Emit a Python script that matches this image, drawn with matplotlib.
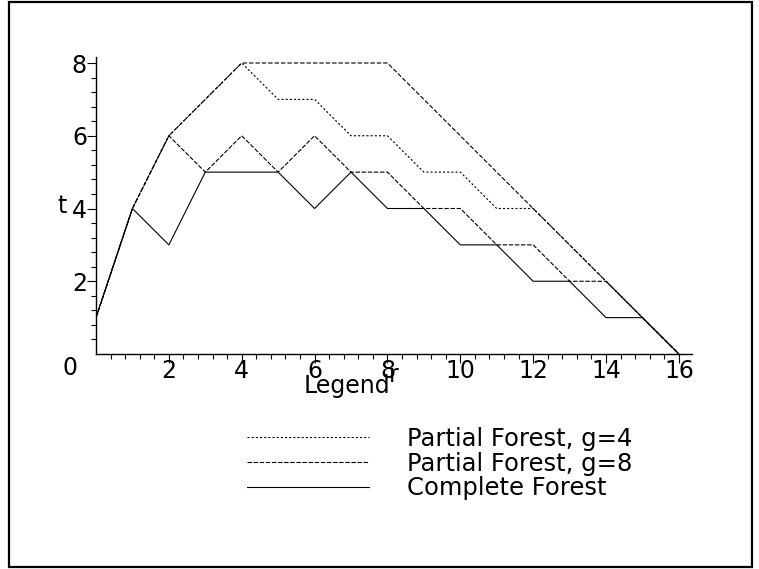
import matplotlib.pyplot as plt
from matplotlib.patches import Rectangle

plt.rcParams['font.family'] = ['DejaVu Sans']
plt.rcParams['lines.scale_dashes'] = False

# Data
r = list(range(17))
upper_bound = [1, 4, 6, 7, 8, 8, 8, 8, 8, 7, 6, 5, 4, 3, 2, 1, 0]
partial_g4 = [1, 4, 6, 7, 8, 7, 7, 6, 6, 5, 5, 4, 4, 3, 2, 1, 0]
partial_g8 = [1, 4, 6, 5, 6, 5, 6, 5, 5, 4, 4, 3, 3, 2, 2, 1, 0]
complete = [1, 4, 3, 5, 5, 5, 4, 5, 4, 4, 3, 3, 2, 2, 1, 1, 0]

x_ticks = [2, 4, 6, 8, 10, 12, 14, 16]
y_ticks = [2, 4, 6, 8]

W, H = 759, 569
fig = plt.figure(figsize=(W / 100, H / 100), dpi=100)
ax = fig.add_axes([96 / W, 1 - 354 / H, (692 - 96) / W, (354 - 57) / H])

lw = 0.8
ax.plot(r, upper_bound, color='black', lw=lw, dashes=(3.2, 1.4), label='_nolegend_')
ax.plot(r, partial_g4, color='black', lw=lw, dashes=(1.5, 1.5), label='Partial Forest, g=4')
ax.plot(r, partial_g8, color='black', lw=lw, dashes=(3.2, 1.2), label='Partial Forest, g=8')
ax.plot(r, complete, color='black', lw=lw, label='Complete Forest')

ax.set_xlim(0, 16.36)
ax.set_ylim(0, 8.165)
for s in ['top', 'right']:
    ax.spines[s].set_visible(False)
for s in ['left', 'bottom']:
    ax.spines[s].set_linewidth(1.0)

ax.set_xticks(x_ticks)
ax.set_yticks(y_ticks)
ax.set_xticks([i * 0.4 for i in range(1, 41) if i % 5 != 0], minor=True)
ax.set_yticks([i * 0.4 for i in range(1, 21) if i % 5 != 0], minor=True)
ax.tick_params(which='major', length=6.5, width=0.8, labelsize=17)
ax.tick_params(axis='x', which='major', pad=-3)
ax.tick_params(axis='y', which='major', pad=0)
ax.tick_params(which='minor', length=3.6, width=0.8)

# the lone "0" at the origin
ax.annotate('0', xy=(0, 0), xytext=(-26, -14), textcoords='offset pixels',
            ha='center', va='center', fontsize=17)

ax.set_xlabel('r', fontsize=17)
ax.xaxis.set_label_coords((394 - 96) / 596, -(375 - 354) / 297)
ax.xaxis.label.set_va('center')
ax.set_ylabel('t', fontsize=17, rotation=0, ha='center', va='center')
ax.yaxis.set_label_coords((62 - 96) / 596, (354 - 206) / 297)

fig.text(347 / W, 1 - 386 / H, 'Legend', fontsize=17, ha='center', va='center')
ax.legend(loc='upper left', bbox_to_anchor=(247 / W, 1 - 427 / H),
          bbox_transform=fig.transFigure, frameon=False, fontsize=17.5,
          borderpad=0, borderaxespad=0, handlelength=5.0, handletextpad=1.6,
          labelspacing=0.03)

# outer frame
fig.patches.append(Rectangle((9 / W, 2 / H), (752 - 9) / W, (H - 4) / H,
                             transform=fig.transFigure, fill=False,
                             edgecolor='black', lw=1.6))

fig.savefig('out.png', dpi=100)
